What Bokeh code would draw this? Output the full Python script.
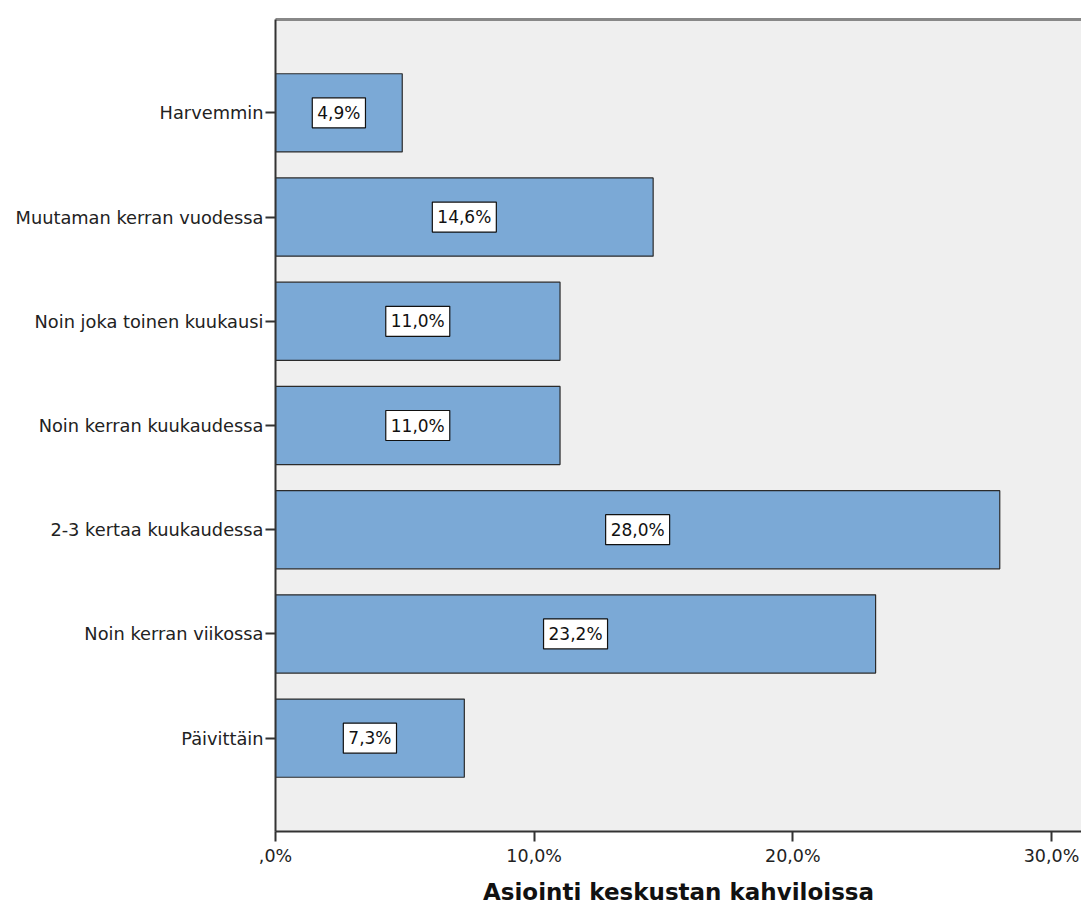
from bokeh.plotting import figure
from bokeh.models import FactorRange, Range1d, ColumnDataSource, FixedTicker, LinearAxis
from bokeh.core.properties import value
from bokeh.embed import file_html
from bokeh.resources import INLINE

# Data (top to bottom as shown)
categories = ["Harvemmin", "Muutaman kerran vuodessa", "Noin joka toinen kuukausi",
              "Noin kerran kuukaudessa", "2-3 kertaa kuukaudessa", "Noin kerran viikossa",
              "Päivittäin"]
percents = [4.9, 14.6, 11.0, 11.0, 28.0, 23.2, 7.3]
bar_labels = ["4,9%", "14,6%", "11,0%", "11,0%", "28,0%", "23,2%", "7,3%"]
x_ticks = [0, 10, 20, 30]
x_tick_labels = [",0%", "10,0%", "20,0%", "30,0%"]
axis_title = "Asiointi keskustan kahviloissa"

FONT = "DejaVu Sans"

src = ColumnDataSource(dict(cat=categories, pct=percents, lab=bar_labels,
                            mid=[v / 2 for v in percents]))

yr = FactorRange(factors=list(reversed(categories)), range_padding=0.113,
                 range_padding_units="percent")

p = figure(width=1081, height=913, y_range=yr, x_range=Range1d(0, 31.16),
           output_backend="svg", toolbar_location=None,
           min_border_left=275, min_border_right=0, min_border_top=19,
           min_border_bottom=82)
p.background_fill_color = "#efefef"
p.border_fill_color = "white"
p.outline_line_color = None
p.grid.visible = False

p.hbar(y="cat", right="pct", left=0, height=0.75, source=src,
       fill_color="#7ba9d6", line_color="#2b2b2b", line_width=1.2)

p.text(x="mid", y="cat", text="lab", source=src, text_align="center",
       text_baseline="middle", text_font=value(FONT), text_font_size="17px",
       text_color="#111111", background_fill_color="white",
       border_line_color="#111111", border_line_width=1.2, padding=5)

# axes
xa = p.xaxis[0]
xa.ticker = FixedTicker(ticks=x_ticks)
xa.major_label_overrides = {t: l for t, l in zip(x_ticks, x_tick_labels)}
xa.minor_tick_line_color = None
xa.major_tick_in = 0
xa.major_tick_out = 10
xa.major_tick_line_color = "#333333"
xa.major_tick_line_width = 2
xa.axis_line_color = "#333333"
xa.axis_line_width = 2
xa.major_label_text_font = FONT
xa.major_label_text_font_size = "17.5px"
xa.major_label_text_color = "#222222"
xa.major_label_standoff = 4
xa.axis_label = axis_title
xa.axis_label_text_font = FONT
xa.axis_label_text_font_style = "bold"
xa.axis_label_text_font_size = "23px"
xa.axis_label_text_color = "#111111"
xa.axis_label_standoff = 10

ya = p.yaxis[0]
ya.major_tick_in = 0
ya.major_tick_out = 10
ya.major_tick_line_color = "#333333"
ya.major_tick_line_width = 2
ya.axis_line_color = "#333333"
ya.axis_line_width = 2
ya.major_label_text_font = FONT
ya.major_label_text_font_size = "17.8px"
ya.major_label_text_color = "#222222"
ya.major_label_standoff = 2

top = LinearAxis(ticker=FixedTicker(ticks=[]), major_tick_out=0, major_tick_in=0,
                 minor_tick_out=0, minor_tick_in=0, axis_line_color="#888888",
                 axis_line_width=3, major_label_text_font_size="0px",
                 major_label_standoff=0)
p.add_layout(top, "above")

open("out.html", "w").write(file_html(p, INLINE))
